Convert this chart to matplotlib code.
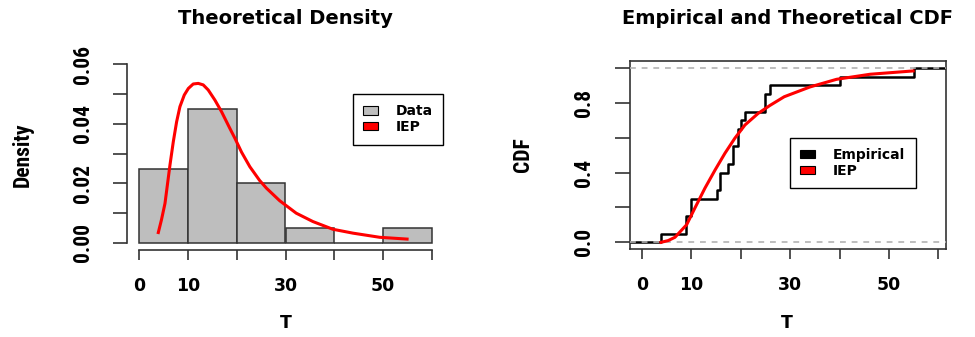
import numpy as np
import matplotlib
matplotlib.use("Agg")
import matplotlib.pyplot as plt
from matplotlib.patches import Patch
from matplotlib import font_manager as fm

# ---------------- data ----------------
sample_T = [3.85, 8.9, 8.9, 9.85, 9.85, 15.1, 15.8, 15.8, 17.5, 18.4,
            18.4, 19.5, 19.5, 20.0, 20.85, 24.9, 24.9, 25.9, 40.0, 55.0]
hist_edges = [0, 10, 20, 30, 40, 50, 60]

dens_t = [3.95, 4.6, 5.32, 6.34, 7.02, 7.7, 8.38, 9.27, 10.1, 11.1, 12.13,
          13.15, 14.17, 15.54, 16.9, 18.6, 19.63, 21.0, 22.7, 24.7, 26.1,
          28.8, 32.2, 35.6, 39.7, 43.8, 49.3, 54.9]
dens_y = [0.0035, 0.0078, 0.0133, 0.0262, 0.034, 0.0407, 0.0458, 0.0497,
          0.0519, 0.0534, 0.0536, 0.0531, 0.0514, 0.048, 0.0441, 0.0385,
          0.0352, 0.0305, 0.0256, 0.021, 0.0184, 0.0142, 0.0100, 0.0072,
          0.0046, 0.0033, 0.0019, 0.0013]

cdf_t = [3.85, 5.3, 6.68, 9.04, 10.7, 12.75, 14.8, 16.8, 18.8, 20.85, 23.5,
         25.9, 28.8, 34.0, 39.4, 46.2, 54.9]
cdf_F = [0.0, 0.01, 0.029, 0.101, 0.196, 0.311, 0.415, 0.511, 0.597, 0.673,
         0.739, 0.785, 0.835, 0.891, 0.935, 0.964, 0.983]

x_ticks = [0, 10, 20, 30, 40, 50, 60]
x_ticklabels = ["0", "10", "", "30", "", "50", ""]
dens_yticks = [0, 0.01, 0.02, 0.03, 0.04, 0.05, 0.06]
dens_yticklabels = ["0.00", "", "0.02", "", "0.04", "", "0.06"]
cdf_yticks = [0, 0.2, 0.4, 0.6, 0.8, 1.0]
cdf_yticklabels = ["0.0", "", "0.4", "", "0.8", ""]

# ---------------- fonts (narrow font for the rotated texts) ----------------
def _has(family, stretch="normal", must=None):
    try:
        p = fm.findfont(fm.FontProperties(family=family, weight="bold", stretch=stretch),
                        fallback_to_default=False)
    except Exception:
        return False
    if must is not None and must.lower() not in p.lower():
        return False
    return True

if _has("Liberation Sans Narrow"):
    narrow, vsize = ["Liberation Sans Narrow", "DejaVu Sans"], 15.5
elif _has("Roboto Condensed"):
    narrow, vsize = ["Roboto Condensed", "DejaVu Sans"], 15.5
elif _has("Roboto"):
    narrow, vsize = ["Roboto", "DejaVu Sans"], 13.5
else:
    narrow, vsize = ["DejaVu Sans"], 12

W, H = 975, 337
fig = plt.figure(figsize=(W / 100, H / 100), dpi=100)
fig.patch.set_facecolor("white")

def px_axes(l, t, r, b):
    return fig.add_axes([l / W, 1 - b / H, (r - l) / W, (b - t) / H])

dark = "#333333"
leg_kw = dict(loc="upper left", prop={"weight": "bold", "size": 10}, frameon=True,
              fancybox=False, edgecolor="black", handlelength=1.05,
              handleheight=0.55, handletextpad=1.3, borderpad=0.75,
              labelspacing=0.12, borderaxespad=0, framealpha=1)

# ---------------- left: histogram + density ----------------
ax1 = px_axes(127.3, 57.2, 443.7, 250.1)
x = np.array(sample_T)
edges = np.array(hist_edges, dtype=float)
idx = np.searchsorted(edges, x, side="left") - 1   # right-closed bins like R
idx = np.clip(idx, 0, len(edges) - 2)
counts = np.bincount(idx, minlength=len(edges) - 1)
dens = counts / (len(x) * np.diff(edges))
ax1.bar(edges[:-1], dens, width=np.diff(edges), align="edge",
        color="#bebebe", edgecolor=dark, linewidth=1.1, zorder=2)
ax1.plot(dens_t, dens_y, color="red", lw=2.2, zorder=3, solid_joinstyle="round")
ax1.set_xlim(-2.4, 62.4)
ax1.set_ylim(-0.0024, 0.0624)
for s in ["top", "right"]:
    ax1.spines[s].set_visible(False)
ax1.spines["left"].set_bounds(0, 0.06)
ax1.spines["bottom"].set_bounds(0, 60)
for s in ["left", "bottom"]:
    ax1.spines[s].set_color(dark)
    ax1.spines[s].set_linewidth(1.2)
ax1.set_xticks(x_ticks)
ax1.set_xticklabels(x_ticklabels, fontweight="bold", fontsize=12.5)
ax1.set_yticks(dens_yticks)
ax1.set_yticklabels(dens_yticklabels, rotation=90, va="center",
                    family=narrow, fontweight="bold", fontsize=vsize)
ax1.tick_params(axis="x", length=7.2, width=1.2, color=dark, pad=12)
ax1.tick_params(axis="y", length=10, width=1.2, color=dark, pad=14)

leg1 = ax1.legend(handles=[Patch(facecolor="#bebebe", edgecolor="black", lw=0.8, label="Data"),
                           Patch(facecolor="red", edgecolor="black", lw=0.8, label="IEP")],
                  bbox_to_anchor=(0.7124, 0.809), **leg_kw)
leg1.get_frame().set_linewidth(1.0)

fig.text(285.5 / W, 1 - 18.5 / H, "Theoretical Density", ha="center", va="center",
         fontweight="bold", fontsize=14)
fig.text(286 / W, 1 - 323 / H, "T", ha="center", va="center",
         fontweight="bold", fontsize=12.5)
fig.text(23 / W, 1 - 155 / H, "Density", ha="center", va="center", rotation=90,
         family=narrow, fontweight="bold", fontsize=vsize)

# ---------------- right: ECDF + CDF ----------------
ax2 = px_axes(630, 61, 945.7, 249.3)
xlim2 = (-2.43, 61.5)
xs = np.sort(x)
Fs = np.arange(1, len(xs) + 1) / len(xs)
step_x = np.concatenate([[xlim2[0]], xs, [xlim2[1]]])
step_y = np.concatenate([[0.0], Fs, [1.0]])
ax2.step(step_x, step_y, where="post", color="black", lw=1.8, zorder=2)
for h in (0, 1):
    ax2.axhline(h, color="#b3b3b3", lw=1.2, dashes=(3.5, 3.5), zorder=3)
ax2.plot(cdf_t, cdf_F, color="red", lw=2.2, zorder=4, solid_joinstyle="round")
ax2.set_xlim(*xlim2)
ax2.set_ylim(-0.04, 1.04)
for s in ax2.spines.values():
    s.set_color(dark)
    s.set_linewidth(1.2)
ax2.set_xticks(x_ticks)
ax2.set_xticklabels(x_ticklabels, fontweight="bold", fontsize=12.5)
ax2.set_yticks(cdf_yticks)
ax2.set_yticklabels(cdf_yticklabels, rotation=90, va="center",
                    family=narrow, fontweight="bold", fontsize=vsize)
ax2.tick_params(axis="x", length=7.2, width=1.2, color=dark, pad=12)
ax2.tick_params(axis="y", length=10.5, width=1.2, color=dark, pad=15)

leg2 = ax2.legend(handles=[Patch(facecolor="black", edgecolor="black", lw=0.8, label="Empirical"),
                           Patch(facecolor="red", edgecolor="black", lw=0.8, label="IEP")],
                  bbox_to_anchor=(0.5068, 0.5927), **leg_kw)
leg2.get_frame().set_linewidth(1.0)
leg2.set_zorder(5)

fig.text(788 / W, 1 - 18.5 / H, "Empirical and Theoretical CDF", ha="center",
         va="center", fontweight="bold", fontsize=14)
fig.text(786.7 / W, 1 - 323 / H, "T", ha="center", va="center",
         fontweight="bold", fontsize=12.5)
fig.text(523 / W, 1 - 155 / H, "CDF", ha="center", va="center", rotation=90,
         family=narrow, fontweight="bold", fontsize=vsize)

fig.savefig("out.png", dpi=100, facecolor="white")
